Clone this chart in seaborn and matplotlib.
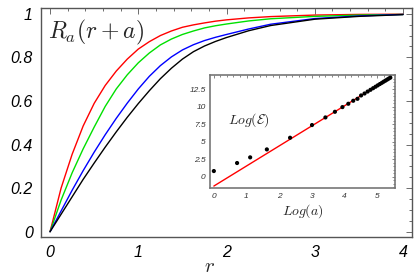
import matplotlib
matplotlib.use("Agg")
import matplotlib.pyplot as plt
from matplotlib.ticker import MultipleLocator
import pandas as pd
import seaborn as sns

# main curves R_a(r+a)
r = [0, 0.125, 0.25, 0.375, 0.5, 0.625, 0.75, 0.875, 1.0, 1.125, 1.25, 1.375, 1.5,
     1.625, 1.75, 1.875, 2.0, 2.25, 2.5, 3.0, 3.5, 4.0]
red = [0, 0.20, 0.355, 0.485, 0.589, 0.671, 0.737, 0.792, 0.838, 0.872, 0.900, 0.921, 0.938,
       0.949, 0.958, 0.966, 0.972, 0.981, 0.987, 0.994, 0.997, 0.998]
green = [0, 0.145, 0.27, 0.38, 0.48, 0.575, 0.655, 0.72, 0.775, 0.82, 0.857, 0.884, 0.905,
         0.921, 0.935, 0.945, 0.953, 0.967, 0.977, 0.988, 0.994, 0.997]
blue = [0, 0.095, 0.19, 0.28, 0.365, 0.445, 0.52, 0.59, 0.655, 0.713, 0.762, 0.802, 0.834,
        0.858, 0.877, 0.892, 0.905, 0.93, 0.952, 0.978, 0.99, 0.997]
black = [0, 0.08, 0.16, 0.24, 0.315, 0.388, 0.458, 0.525, 0.588, 0.647, 0.702, 0.75, 0.792,
         0.826, 0.852, 0.873, 0.891, 0.922, 0.946, 0.975, 0.988, 0.996]

# inset: Log(E) vs Log(a)
log_a = [0, 0.71, 1.11, 1.62, 2.33, 3.0, 3.41, 3.70, 3.93, 4.11, 4.26, 4.39, 4.50,
         4.605, 4.70, 4.787, 4.868, 4.942, 5.01, 5.075, 5.136, 5.193, 5.247, 5.298, 5.347, 5.394]
log_e = [0.81, 1.96, 2.77, 3.91, 5.58, 7.40, 8.49, 9.30, 9.97, 10.45, 10.88, 11.16, 11.64,
         11.92, 12.2, 12.45, 12.68, 12.89, 13.09, 13.28, 13.45, 13.62, 13.77, 13.92, 14.06, 14.19]
fit_x = [0, 5.4]
fit_y = [-1.34, 14.21]

sns.set_style("white")
plt.rcParams["font.family"] = ["Liberation Sans", "DejaVu Sans"]
plt.rcParams["mathtext.fontset"] = "cm"

frame = "#555555"

df = pd.DataFrame({
    "r": r * 4,
    "R": red + green + blue + black,
    "curve": ["red"] * len(r) + ["green"] * len(r) + ["blue"] * len(r) + ["black"] * len(r),
})

fig = plt.figure(figsize=(4.19, 2.77), dpi=100)
ax = fig.add_axes([0.098, 0.1455, 0.885, 0.8245])
sns.lineplot(data=df, x="r", y="R", hue="curve", sort=False, estimator=None,
             palette={"red": "#ff0000", "green": "#00e000", "blue": "#0000ff", "black": "#000000"},
             linewidth=1.0, legend=False, ax=ax)
ax.set_xlim(-0.102, 4.10)
ax.set_ylim(-0.023, 1.025)
ax.xaxis.set_minor_locator(MultipleLocator(0.2))
ax.yaxis.set_minor_locator(MultipleLocator(0.05))
ax.set_yticks([0, 0.2, 0.4, 0.6, 0.8, 1.0])
ax.set_yticklabels(["0", "0.2", "0.4", "0.6", "0.8", "1"])
ax.set_xticks([0, 1, 2, 3, 4])
ax.set_xticklabels(["0", "1", "2", "3", "4"])
ax.tick_params(which="both", direction="in", top=True, right=True, colors=frame,
               labelcolor="black", width=0.6)
ax.tick_params(which="major", length=4, labelsize=11.5, pad=6)
ax.tick_params(which="minor", length=2)
for lab in ax.get_xticklabels() + ax.get_yticklabels():
    lab.set_fontstyle("italic")
for s in ax.spines.values():
    s.set_color(frame)
    s.set_linewidth(1.0)
ax.set_xlabel(r"$r$", fontsize=15)
ax.xaxis.set_label_coords(0.455, -0.09)
ax.set_ylabel("")
ax.text(0.02, 0.96, r"$R_a(r+a)$", transform=ax.transAxes, fontsize=17, va="top", ha="left")

# inset
ins = fig.add_axes([0.501, 0.320, 0.442, 0.410])
sns.lineplot(x=fit_x, y=fit_y, color="#ff0000", linewidth=1.0, ax=ins)
sns.scatterplot(x=log_a, y=log_e, color="black", s=9, edgecolor="none", ax=ins, zorder=3)
ins.set_xlim(-0.12, 5.54)
ins.set_ylim(-1.67, 14.6)
ins.xaxis.set_minor_locator(MultipleLocator(0.2))
ins.yaxis.set_minor_locator(MultipleLocator(0.5))
ins.set_xticks([0, 1, 2, 3, 4, 5])
ins.set_yticks([0, 2.5, 5, 7.5, 10, 12.5])
ins.set_yticklabels(["0", "2.5", "5", "7.5", "10", "12.5"])
ins.tick_params(which="both", direction="in", top=True, right=True, colors=frame,
                labelcolor="#333333", width=0.5)
ins.tick_params(which="major", length=2.5, labelsize=6, pad=3)
ins.tick_params(which="minor", length=1.3)
for lab in ins.get_xticklabels() + ins.get_yticklabels():
    lab.set_fontstyle("italic")
for s in ins.spines.values():
    s.set_color("#777777")
    s.set_linewidth(1.2)
ins.set_xlabel(r"$Log(a)$", fontsize=10, labelpad=2)
ins.text(0.42, 8.1, r"$Log(\mathcal{E})$", fontsize=10, va="center", ha="left")

fig.savefig("out.png", dpi=100)
